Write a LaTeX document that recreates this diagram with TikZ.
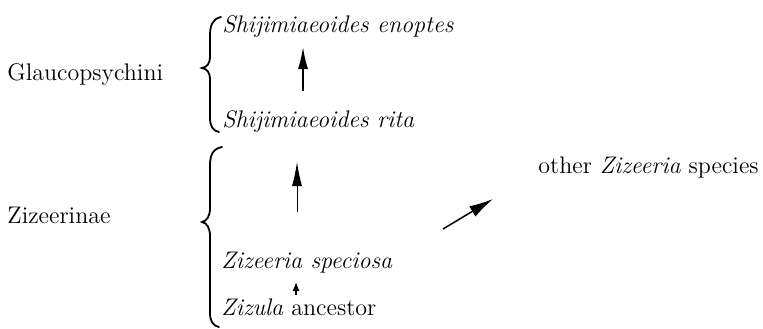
\documentclass[tikz,border=0pt]{standalone}
\usetikzlibrary{arrows.meta}
\begin{document}
\begin{tikzpicture}[x=0.5pt,y=-0.5pt,
  lbl/.style={inner sep=0pt,anchor=base west,font=\fontsize{12}{14}\selectfont},
  brace/.style={line width=0.9pt,line cap=round},
  evo/.style={line width=0.75pt,-{Latex[length=#1,width=5pt]}},
  evo/.default=11pt]
\useasboundingbox (0,0) rectangle (763,328);
% labels
\node[lbl] (glau) at (7,80) {Glaucopsychini};
\node[lbl] (zize) at (7,223) {Zizeerinae};
\node[lbl] (enop) at (222,32) {\itshape Shijimiaeoides enoptes};
\node[lbl] (rita) at (222,127) {\itshape Shijimiaeoides rita};
\node[lbl] (spec) at (221,268) {\itshape Zizeeria speciosa};
\node[lbl] (anc) at (221,315) {\itshape Zizula\/\upshape\ ancestor};
\node[lbl] (oth) at (538,173) {other \textit{Zizeeria} species};
% braces
\draw[brace] (221,17) .. controls (212,19) and (210,26) .. (210,36) -- (210,56)
  .. controls (210,64) and (207,67) .. (202,68)
  .. controls (207,69) and (210,72) .. (210,80) -- (210,118)
  .. controls (210,126) and (213,131) .. (219,132);
\draw[brace] (222,147) .. controls (212,149) and (210,156) .. (210,166) -- (210,208)
  .. controls (210,216) and (207,221) .. (202,222)
  .. controls (207,223) and (210,228) .. (210,236) -- (210,313)
  .. controls (210,321) and (213,326) .. (219,327);
% arrow end points
\coordinate (a1s) at (303,91);
\coordinate (a1e) at (303,47);
\coordinate (a2s) at (297,212);
\coordinate (a2e) at (297,162);
\coordinate (a3s) at (296,295);
\coordinate (a3e) at (296,282);
\coordinate (a4s) at (443,229);
\coordinate (a4e) at (493,199);
\draw[evo=11pt] (a1s) -- (a1e);
\draw[line width=0.5pt,-{Latex[length=12pt,width=5pt]}] (a2s) -- (a2e);
\draw[line width=0.6pt,-{Latex[length=4.5pt,width=3.5pt]}] (a3s) -- (a3e);
\draw[line width=0.75pt,-{Latex[length=12pt,width=6pt]}] (a4s) -- (a4e);
\end{tikzpicture}
\end{document}
